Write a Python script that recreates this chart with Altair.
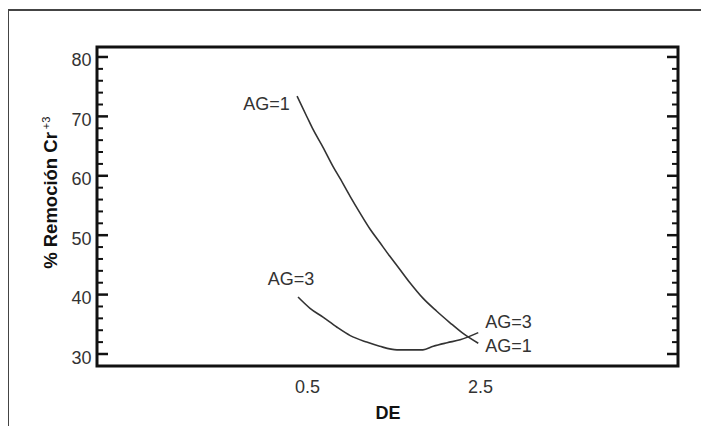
import altair as alt
import pandas as pd

# Curve AG=1
de_ag1 = [0.385, 0.50, 0.57, 0.685, 0.80, 0.88, 1.00, 1.11, 1.23, 1.34, 1.46, 1.55, 1.69, 1.84, 2.00, 2.15, 2.30, 2.48]
rem_ag1 = [73.4, 69.9, 67.8, 64.8, 61.6, 59.6, 56.5, 53.8, 51.0, 48.8, 46.4, 44.7, 42.0, 39.4, 37.2, 35.3, 33.5, 31.8]

# Curve AG=3
de_ag3 = [0.396, 0.535, 0.685, 0.847, 1.0, 1.19, 1.34, 1.54, 1.84, 1.96, 2.12, 2.27, 2.48]
rem_ag3 = [39.6, 37.7, 36.2, 34.5, 33.1, 32.0, 31.3, 30.7, 30.7, 31.3, 31.9, 32.4, 33.6]

# Curve labels
lab_text = ["AG=1", "AG=3", "AG=3", "AG=1"]
lab_x = [0.30, 0.315, 2.56, 2.56]
lab_y = [71.9, 42.5, 35.2, 31.2]
lab_align = ["right", "center", "left", "left"]

# Axis ticks
y_major = [30, 40, 50, 60, 70, 80]
y_minor = [32, 34, 36, 38, 42, 44, 46, 48, 52, 54, 56, 58, 62, 64, 66, 68, 72, 74, 76, 78]
x_labels = [0.5, 2.5]

X_DOMAIN = [-1.928, 4.789]
Y_DOMAIN = [27.98, 81.68]
W, H = 581, 319
FONT = "Liberation Sans"

curves = pd.DataFrame(
    {"DE": de_ag1 + de_ag3,
     "rem": rem_ag1 + rem_ag3,
     "AG": ["1"] * len(de_ag1) + ["3"] * len(de_ag3)}
)
labels = pd.DataFrame({"t": lab_text, "x": lab_x, "y": lab_y, "a": lab_align})
major = pd.DataFrame({"v": y_major})
minor = pd.DataFrame({"v": y_minor})

xs = alt.Scale(domain=X_DOMAIN, nice=False, zero=False)
ys = alt.Scale(domain=Y_DOMAIN, nice=False, zero=False)

lines = alt.Chart(curves).mark_line(color="#333333", strokeWidth=1.6, interpolate="monotone").encode(
    x=alt.X("DE:Q", scale=xs, title="DE",
            axis=alt.Axis(values=x_labels, format=".1f", ticks=False, domain=False,
                          grid=False, labelPadding=12, tickSize=0,
                          labelFontSize=18, labelFont=FONT, labelColor="#333333",
                          titleFontSize=18, titleFont=FONT, titleFontWeight="bold",
                          titleColor="#111111", titlePadding=8)),
    y=alt.Y("rem:Q", scale=ys, title="% Remoción Cr",
            axis=alt.Axis(values=y_major, ticks=False, domain=False, grid=False,
                          labelPadding=6, labelOffset=4, tickSize=0,
                          labelFontSize=18, labelFont=FONT, labelColor="#333333",
                          titleFontSize=18.5, titleFont=FONT, titleFontWeight="bold",
                          titleColor="#111111", titlePadding=10, titleY=153)),
    detail="AG:N",
)

# superscript "+3" of the y title
sup = alt.Chart(major.head(1)).mark_text(
    text="+3", fontSize=11, font=FONT, color="#111111", angle=270,
    align="center", baseline="middle"
).encode(x=alt.value(-50), y=alt.value(76))

def text_layer(align):
    return alt.Chart(labels).transform_filter(
        alt.datum.a == align
    ).mark_text(fontSize=18, font=FONT, color="#333333", baseline="middle", align=align).encode(
        x=alt.X("x:Q", scale=xs),
        y=alt.Y("y:Q", scale=ys),
        text="t:N",
    )

tick_l_major = alt.Chart(major).mark_rule(color="#111111", strokeWidth=2.5).encode(
    y=alt.Y("v:Q", scale=ys), x=alt.value(0), x2=alt.value(11))
tick_l_minor = alt.Chart(minor).mark_rule(color="#111111", strokeWidth=2).encode(
    y=alt.Y("v:Q", scale=ys), x=alt.value(0), x2=alt.value(6))
tick_r_major = alt.Chart(major).mark_rule(color="#111111", strokeWidth=2.5).encode(
    y=alt.Y("v:Q", scale=ys), x=alt.value(W), x2=alt.value(W - 11))
tick_r_minor = alt.Chart(minor).mark_rule(color="#111111", strokeWidth=2).encode(
    y=alt.Y("v:Q", scale=ys), x=alt.value(W), x2=alt.value(W - 6))

frame_top = alt.Chart(major.head(1)).mark_rule(color="#444444", strokeWidth=2).encode(
    x=alt.value(-89), x2=alt.value(W + 40), y=alt.value(-37))
frame_left = alt.Chart(major.head(1)).mark_rule(color="#444444", strokeWidth=2).encode(
    x=alt.value(-89), y=alt.value(-37), y2=alt.value(H + 80))

chart = alt.layer(
    frame_top, frame_left, lines, sup,
    text_layer("right"), text_layer("center"), text_layer("left"),
    tick_l_major, tick_l_minor, tick_r_major, tick_r_minor,
).properties(
    width=W, height=H,
    background="white",
    autosize=alt.AutoSizeParams(type="none"),
    padding={"left": 89, "top": 39, "right": 23, "bottom": 60},
).configure_view(
    stroke="#111111", strokeWidth=3
)

chart.save("out.html", embed_options={"renderer": "svg", "actions": False})
